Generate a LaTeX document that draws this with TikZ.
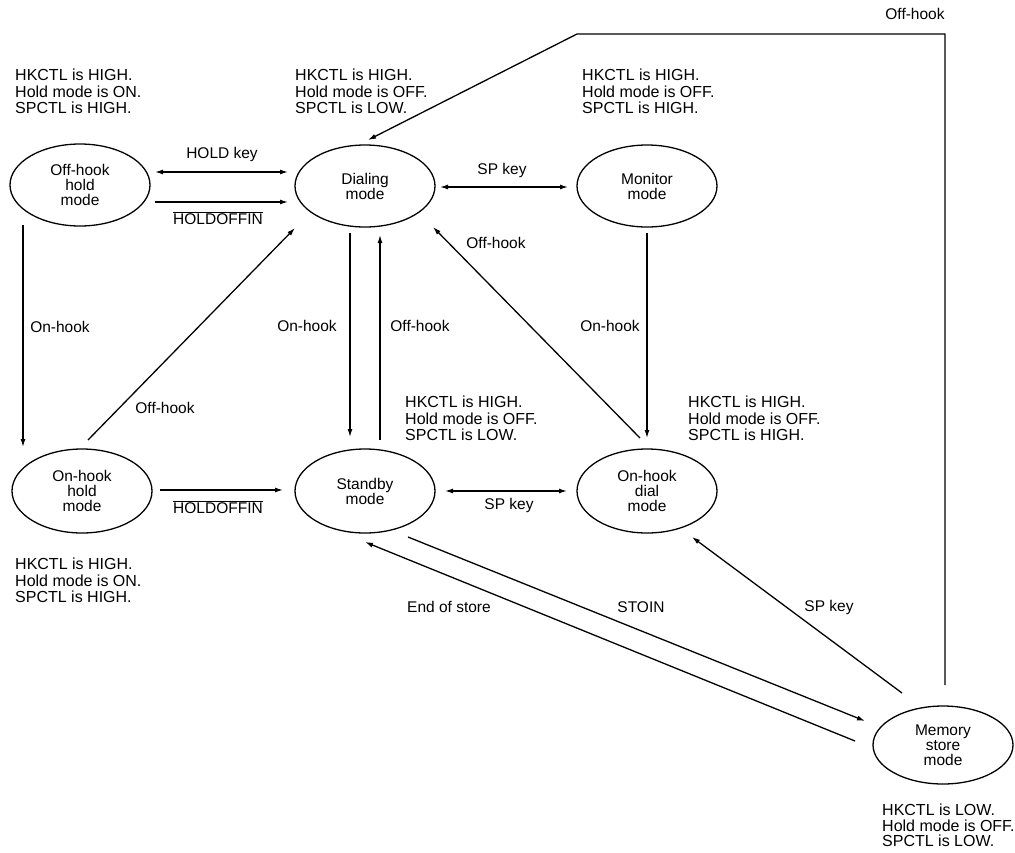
\documentclass[tikz,border=0pt]{standalone}
\usepackage{fontspec}
\setmainfont{Liberation Sans}
\usetikzlibrary{shapes.geometric,arrows.meta,calc}
\begin{document}
\begin{tikzpicture}[x=1pt,y=-1pt,
  state/.style={ellipse,draw,line width=1.3pt,minimum width=140pt,minimum height=82pt,inner sep=0pt,align=center,font=\fontsize{15.5}{15}\selectfont},
  info/.style={anchor=north west,inner sep=0pt,align=left,font=\fontsize{16}{16.5}\selectfont},
  lbl/.style={inner sep=0pt,font=\fontsize{15.5}{16}\selectfont},
  tipb/.tip={Latex[length=8pt,width=5pt]},
  conn/.style={line width=1.3pt,-tipb},
  dconn/.style={line width=1.3pt,tipb-tipb},
  plain/.style={line width=1.3pt}]
\fill[white] (0,0) rectangle (1015,852);
\useasboundingbox (0,0) rectangle (1015,852);

% states
\node[state] (ohh) at (80,185) {Off-hook\\hold\\mode};
\node[state] (dial) at (365,186) {Dialing\\mode};
\node[state] (mon) at (647,186) {Monitor\\mode};
\node[state,minimum height=84pt] (onh) at (82,491) {On-hook\\hold\\mode};
\node[state,minimum height=84pt] (stby) at (365,491) {Standby\\mode};
\node[state,minimum height=84pt] (odl) at (647,491) {On-hook\\dial\\mode};
\node[state,minimum height=78pt] (mem) at (943,745) {Memory\\store\\mode};

% condition texts
\node[info] (t1) at (15,69) {HKCTL is HIGH.\\Hold mode is ON.\\SPCTL is HIGH.};
\node[info] (t2) at (295,69) {HKCTL is HIGH.\\Hold mode is OFF.\\SPCTL is LOW.};
\node[info] (t3) at (582,69) {HKCTL is HIGH.\\Hold mode is OFF.\\SPCTL is HIGH.};
\node[info] (t4) at (405,396) {HKCTL is HIGH.\\Hold mode is OFF.\\SPCTL is LOW.};
\node[info] (t5) at (688,396) {HKCTL is HIGH.\\Hold mode is OFF.\\SPCTL is HIGH.};
\node[info] (t6) at (15,558) {HKCTL is HIGH.\\Hold mode is ON.\\SPCTL is HIGH.};
\node[info,font=\fontsize{16}{15.5}\selectfont] (t7) at (882,804) {HKCTL is LOW.\\Hold mode is OFF.\\SPCTL is LOW.};

% connectors
\draw[dconn] ($(ohh)+(75,-13)$) -- ($(dial)+(-77,-14)$);
\draw[conn] ($(ohh)+(75,17)$) -- ($(dial)+(-77,16)$);
\draw[dconn] ($(dial)+(75,1)$) -- ($(mon)+(-79,1)$);
\draw[conn] ($(dial)+(-15,47)$) -- ($(stby)+(-15,-54)$);
\draw[conn] ($(stby)+(15,-51)$) -- ($(dial)+(15,49)$);
\draw[conn] ($(mon)+(0,47)$) -- ($(odl)+(0,-53)$);
\draw[conn] ($(odl)+(-7,-53)$) -- ($(dial)+(68,41)$);
\draw[conn] ($(ohh)+(-57,40)$) -- ($(onh)+(-59,-44)$);
\draw[conn] ($(onh)+(6,-51)$) -- ($(dial)+(-70,42)$);
\draw[conn] ($(onh)+(78,-1)$) -- ($(stby)+(-82,-1)$);
\draw[dconn] ($(stby)+(80,0)$) -- ($(odl)+(-80,0)$);
\draw[conn] ($(mem)+(-88,-4)$) -- ($(stby)+(0,51)$);
\draw[conn] ($(stby)+(43,46)$) -- ($(mem)+(-78,-24)$);
\draw[conn] ($(mem)+(-41,-52)$) -- ($(odl)+(45,46)$);
\coordinate (c1) at (945,34);
\coordinate (c2) at (577,34);
\draw[conn] ($(mem)+(2,-60)$) -- (c1) -- (c2) -- ($(dial)+(3,-46)$);

% labels
\node[lbl] (l1) at (222,154) {HOLD key};
\node[lbl] (l2) at (218,218) {$\overline{\mbox{HOLDOFFIN}}$};
\node[lbl] (l3) at (502,170) {SP key};
\node[lbl] (l4) at (307,326) {On-hook};
\node[lbl] (l5) at (420,326) {Off-hook};
\node[lbl] (l6) at (610,326) {On-hook};
\node[lbl] (l7) at (496,243) {Off-hook};
\node[lbl] (l8) at (60,327) {On-hook};
\node[lbl] (l9) at (165,408) {Off-hook};
\node[lbl] (l10) at (218,507) {$\overline{\mbox{HOLDOFFIN}}$};
\node[lbl] (l11) at (509,505) {SP key};
\node[lbl] (l12) at (449,607) {End of store};
\node[lbl] (l13) at (641,607) {STOIN};
\node[lbl] (l14) at (829,607) {SP key};
\node[lbl] (l15) at (915,14) {Off-hook};
\end{tikzpicture}
\end{document}
